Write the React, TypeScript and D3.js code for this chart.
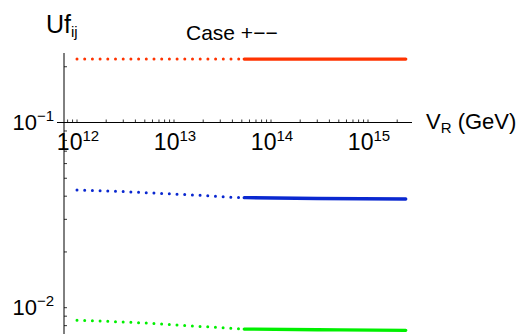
import * as d3 from "d3";

// energy scale V_R (GeV)
const vrDotted = [1e12, 2.6e12, 6.0e12, 1.6e13, 4.1e13, 5.3e13];
const vrSolid = [5.3e13, 3.0e14, 2.45e15];

// |Uf_ij| values
const redDotted = [0.22, 0.22, 0.22, 0.22, 0.22, 0.22];
const redSolid = [0.22, 0.22, 0.22];
const blueDotted = [0.0432, 0.0425, 0.0416, 0.0406, 0.03945, 0.0393];
const blueSolid = [0.0393, 0.03887, 0.03863];
const greenDotted = [0.00855, 0.0084, 0.00823, 0.00796, 0.00774, 0.00767];
const greenSolid = [0.00767, 0.0076, 0.00755];

const xMajor = [12, 13, 14, 15];
const yMajor = [-1, -2];

const series = [
  { color: "#ff3300", dotted: redDotted, solid: redSolid },
  { color: "#0a28d0", dotted: blueDotted, solid: blueSolid },
  { color: "#00f000", dotted: greenDotted, solid: greenSolid },
];

const font = "'Liberation Sans', Arial, Helvetica, sans-serif";

export default function App() {
  const width = 528;
  const height = 334;
  const axisX = 64;
  const axisY = 122.5;

  const x = d3.scaleLog().domain([1e12, 1e15]).range([77, 368]);
  const y = d3.scaleLog().domain([0.1, 0.01]).range([axisY, 307.7]);

  const xMin = 57;
  const xMax = 412;
  const yTop = 53;

  const xTicks: number[] = [];
  for (let d = 11; d <= 15; d++) {
    for (let k = 1; k <= 9; k++) {
      const v = k * Math.pow(10, d);
      const px = x(v);
      if (px > axisX + 1 && px < xMax - 2) xTicks.push(v);
    }
  }
  const yTicks: number[] = [];
  for (let d = -3; d <= 0; d++) {
    for (let k = 1; k <= 9; k++) {
      const v = k * Math.pow(10, d);
      const py = y(v);
      if (py > yTop + 2 && py < height) yTicks.push(v);
    }
  }

  const line = (xs: number[], ys: number[]) =>
    d3
      .line<number>()
      .x((_, i) => x(xs[i]))
      .y((v) => y(v))
      .curve(d3.curveMonotoneX)(ys) || "";

  return (
    <svg
      width={width}
      height={height}
      style={{ position: "absolute", left: 0, top: 0, background: "#fff" }}
      fontFamily={font}
    >
      {/* axes */}
      <line x1={xMin} x2={xMax} y1={axisY} y2={axisY} stroke="#000" strokeWidth={1} />
      <line x1={axisX} x2={axisX} y1={yTop} y2={height} stroke="#000" strokeWidth={1} />
      {xTicks.map((v, i) => (
        <line key={"xt" + i} x1={x(v)} x2={x(v)} y1={axisY} y2={axisY - 3} stroke="#000" strokeWidth={0.8} />
      ))}
      {yTicks.map((v, i) => (
        <line key={"yt" + i} x1={axisX} x2={axisX + 3} y1={y(v)} y2={y(v)} stroke="#000" strokeWidth={0.8} />
      ))}

      {xMajor.map((e) => (
        <text key={"xl" + e} x={x(Math.pow(10, e)) + 1} y={150} fontSize={23} textAnchor="middle">
          10<tspan fontSize={15} dy={-9}>{e}</tspan>
        </text>
      ))}
      {yMajor.map((e) => (
        <text key={"yl" + e} x={54} y={y(Math.pow(10, e)) + 7.5} fontSize={22} textAnchor="end">
          10<tspan fontSize={15} dy={-9}>{"\u2212" + Math.abs(e)}</tspan>
        </text>
      ))}

      {/* curves */}
      {series.map((s, i) => (
        <g key={"s" + i}>
          <path
            d={line(vrDotted, s.dotted)}
            fill="none"
            stroke={s.color}
            strokeWidth={3}
            strokeLinecap="round"
            strokeDasharray="0 7.7"
          />
          <path d={line(vrSolid, s.solid)} fill="none" stroke={s.color} strokeWidth={3.3} strokeLinecap="round" />
        </g>
      ))}

      {/* labels */}
      <text x={46} y={33} fontSize={25}>
        Uf<tspan fontSize={15} dy={4}>ij</tspan>
      </text>
      <text x={186} y={40} fontSize={21}>
        Case +{"\u2212\u2212"}
      </text>
      <text x={426} y={129} fontSize={22}>
        V<tspan fontSize={15} dy={4}>R</tspan>
        <tspan dy={-4}> (GeV)</tspan>
      </text>
    </svg>
  );
}
